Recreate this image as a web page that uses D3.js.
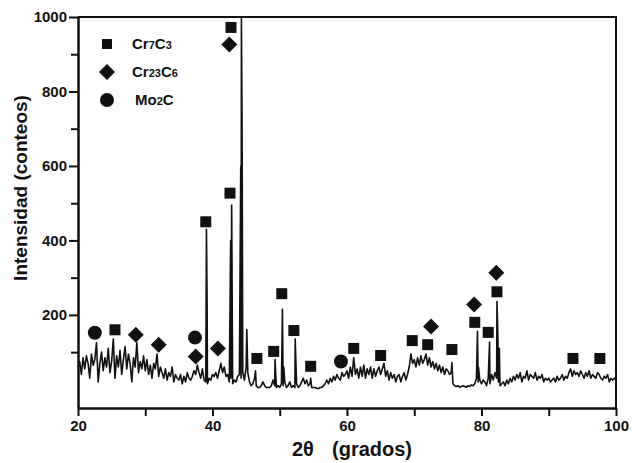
<!DOCTYPE html>
<html lang="es">
<head>
  <meta charset="UTF-8">
  <title>DRX</title>
  <script src="https://d3js.org/d3.v7.min.js"></script>
  <style>
    body { margin: 0; background: #fff; }
    text { font-family: "Liberation Sans", Arial, sans-serif; font-weight: bold; fill: #111; }
    .axis path, .axis line { stroke: #111; stroke-width: 2px; }
    .axis text { font-size: 15px; }
    .trace { fill: none; stroke: #111; stroke-width: 1.6px; stroke-linejoin: round; }
  </style>
</head>
<body>
<div id="chart"></div>
<script>

// background intensity, one value every 0.25 deg from 20 to 100
var bgStart = 20, bgStep = 0.25;
var background = [
  60, 75, 40, 85, 55, 90, 70, 30, 95, 65,
  80, 125, 20, 70, 100, 50, 85, 60, 110, 45,
  75, 135, 30, 90, 60, 105, 40, 80, 115, 55,
  95, 70, 20, 85, 60, 125, 45, 75, 55, 90,
  50, 80, 40, 65, 30, 70, 55, 95, 35, 60,
  45, 30, 55, 25, 45, 35, 60, 20, 40, 30,
  25, 40, 15, 35, 20, 45, 30, 25, 35, 50, 40, 65, 45, 30, 55, 25,
  20, 15, 30, 25, 40, 35, 45, 30, 50, 70, 45, 60, 35, 40, 20, 30, 15, 25, 20, 35, 40, 30, 45, 25,
  60, 45, 20, 10, 15, 30, 10, 5, 5, 10, 20, 10, 5, 5, 5, 10, 25, 10, 5, 10,
  5, 15, 10, 20, 5, 10, 20, 5, 10, 5, 15, 5, 10, 20, 30, 15, 25, 10, 15, 5,
  5, 5, 3, 2, 5, 5, 10, 15, 25, 15, 30, 20, 35, 25, 40, 30, 25, 45, 35, 40,
  50, 30, 60, 35, 85, 40, 55, 30, 60, 35, 65, 30, 55, 40, 60, 30, 55, 35, 50, 60,
  40, 55, 70, 35, 50, 25, 45, 30, 40, 20, 35, 40, 20, 35, 45, 25, 40, 60, 95, 70,
  80, 60, 85, 65, 90, 70, 80, 95, 65, 85, 60, 75, 55, 70, 50, 65, 45, 60, 40, 55,
  50, 40, 45, 15, 10, 8, 10, 6, 8, 10, 8, 6, 10, 8, 12, 10, 15, 30, 20, 25,
  15, 25, 20, 10, 30, 15, 40, 25, 45, 30, 20, 10, 15, 20, 10, 25, 15, 30, 20, 35,
  25, 40, 30, 45, 20, 35, 30, 50, 25, 40, 35, 30, 45, 25, 35, 30, 40, 20, 30, 25,
  30, 20, 25, 30, 20, 35, 25, 30, 40, 25, 35, 30, 45, 55, 35, 50, 40, 45, 35, 50,
  40, 30, 45, 35, 50, 30, 40, 35, 30, 45, 40, 30, 25, 35, 30, 40, 20, 30, 25, 30,
  25
];

// sharp reflections [2theta, counts]
var peaks = [
  [39.1, 430], [39.2, 225],
  [42.7, 400], [42.85, 495],
  [44.2, 600], [44.3, 995], [44.4, 700],
  [45.1, 160], [46.4, 50], [49.3, 80],
  [50.4, 215], [50.6, 60], [52.3, 135], [54.6, 30],
  [75.6, 72], [79.4, 156], [79.55, 60],
  [81.2, 127], [82.3, 236], [82.45, 130], [82.65, 110]
];

// phase markers [2theta, counts]
var cr7c3 = [
  [25.5, 160], [39.0, 450], [42.6, 527], [42.75, 972], [46.6, 83],
  [49.1, 102], [50.3, 257], [52.1, 158], [54.6, 62], [61.0, 110],
  [65.0, 91], [69.7, 131], [72.0, 120], [75.6, 107], [79.0, 180],
  [81.0, 153], [82.3, 262], [93.6, 83], [97.6, 83]
];
var cr23c6 = [
  [28.6, 147], [32.0, 120], [37.5, 88], [40.8, 110], [42.5, 926],
  [72.5, 169], [78.9, 228], [82.2, 313]
];
var mo2c = [[22.5, 152], [37.4, 139], [59.1, 75]];

var xTicks = [20, 40, 60, 80, 100];
var xMinor = [30, 50, 70, 90];
var yTicks = [200, 400, 600, 800, 1000];
var yMinor = [100, 300, 500, 700, 900];

var w = 632, h = 463;
var margin = {top: 17, right: 16, bottom: 55, left: 78};

var svg = d3.select("#chart").append("svg")
  .attr("width", w)
  .attr("height", h);

var x = d3.scaleLinear().domain([20, 100]).range([margin.left, w - margin.right]);
var y = d3.scaleLinear().domain([-50, 1000]).range([h - margin.bottom, margin.top]);

// frame (top + right)
svg.append("path")
  .attr("d", "M" + x(20) + "," + y(1000) + "H" + x(100) + "V" + y(-50))
  .attr("fill", "none")
  .attr("stroke", "#111")
  .attr("stroke-width", 2);

// data line
var pts = background.map(function(v, i) { return [bgStart + i * bgStep, v]; })
  .concat(peaks)
  .sort(function(a, b) { return a[0] - b[0]; });

var line = d3.line()
  .x(function(d) { return x(d[0]); })
  .y(function(d) { return y(d[1]); });

svg.append("path")
  .attr("class", "trace")
  .attr("d", line(pts));

// axes
svg.append("g")
  .attr("class", "axis")
  .attr("transform", "translate(0," + y(-50) + ")")
  .call(d3.axisBottom(x).tickValues(xTicks).tickSize(8).tickPadding(4).tickSizeOuter(0));

svg.append("g")
  .attr("class", "axis")
  .attr("transform", "translate(0," + y(-50) + ")")
  .call(d3.axisBottom(x).tickValues(xMinor).tickSize(8).tickFormat("").tickSizeOuter(0));

svg.append("g")
  .attr("class", "axis")
  .attr("transform", "translate(" + x(20) + ",0)")
  .call(d3.axisLeft(y).tickValues(yTicks).tickFormat(d3.format("d")).tickSize(9).tickPadding(2).tickSizeOuter(0));

svg.append("g")
  .attr("class", "axis")
  .attr("transform", "translate(" + x(20) + ",0)")
  .call(d3.axisLeft(y).tickValues(yMinor).tickSize(7).tickFormat("").tickSizeOuter(0));

// markers
function square(g, cx, cy, s) {
  g.append("rect").attr("x", cx - s / 2).attr("y", cy - s / 2)
    .attr("width", s).attr("height", s).attr("fill", "#111");
}
function diamond(g, cx, cy, s) {
  g.append("path")
    .attr("d", "M" + cx + "," + (cy - s) + "L" + (cx + s) + "," + cy + "L" + cx + "," + (cy + s) + "L" + (cx - s) + "," + cy + "Z")
    .attr("fill", "#111");
}
function circle(g, cx, cy, r) {
  g.append("circle").attr("cx", cx).attr("cy", cy).attr("r", r).attr("fill", "#111");
}

var marks = svg.append("g");
cr7c3.forEach(function(d) { square(marks, x(d[0]), y(d[1]), 11); });
cr23c6.forEach(function(d) { diamond(marks, x(d[0]), y(d[1]), 8); });
mo2c.forEach(function(d) { circle(marks, x(d[0]), y(d[1]), 7); });

// legend
var legend = svg.append("g");
var legendItems = [
  {shape: "square", parts: [["Cr", 0], ["7", 1], ["C", 0], ["3", 1]], tx: 132},
  {shape: "diamond", parts: [["Cr", 0], ["23", 1], ["C", 0], ["6", 1]], tx: 132},
  {shape: "circle", parts: [["Mo", 0], ["2", 1], ["C", 0]], tx: 135}
];
legendItems.forEach(function(it, i) {
  var cy = 44 + i * 28;
  if (it.shape == "square") square(legend, 107, cy, 10);
  if (it.shape == "diamond") diamond(legend, 107, cy, 8);
  if (it.shape == "circle") circle(legend, 107, cy, 7);
  var t = legend.append("text")
    .attr("x", it.tx)
    .attr("y", cy + 5)
    .style("font-size", "15px");
  it.parts.forEach(function(p) {
    t.append("tspan")
      .style("font-size", p[1] ? "11px" : "15px")
      .text(p[0]);
  });
});

// axis titles
svg.append("text")
  .attr("transform", "translate(27,188) rotate(-90)")
  .attr("text-anchor", "middle")
  .style("font-size", "19px")
  .text("Intensidad (conteos)");

var xt = svg.append("text")
  .attr("x", 292)
  .attr("y", 456)
  .style("font-size", "20px");
xt.append("tspan").text("2\u03B8");
xt.append("tspan").attr("x", 332).text("(grados)");

</script>
</body>
</html>
